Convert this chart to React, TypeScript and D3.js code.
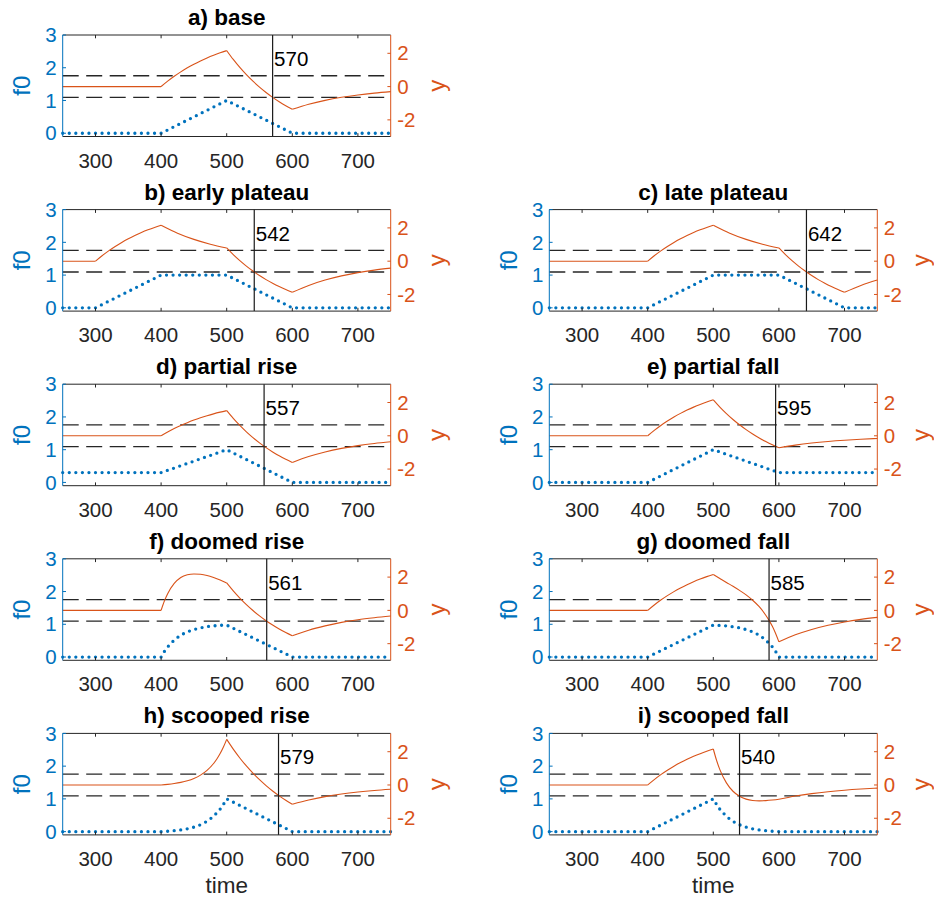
import React from "react";
import * as d3 from "d3";

// ---------- data ----------
const timeTicks = [300, 400, 500, 600, 700];
const f0Ticks = [0, 1, 2, 3];
const yTicks = [-2, 0, 2];
const thresholds = [0.65, -0.65];

const titles = [
  "a) base",
  "b) early plateau",
  "c) late plateau",
  "d) partial rise",
  "e) partial fall",
  "f) doomed rise",
  "g) doomed fall",
  "h) scooped rise",
  "i) scooped fall",
];
const crossTimes = [570, 542, 642, 557, 595, 561, 585, 579, 540];

// f0 (left axis) [time, value]
const f0A = [[250, 0], [400, 0], [500, 1], [600, 0], [750, 0]];
const f0B = [[250, 0], [300, 0], [400, 1], [500, 1], [600, 0], [750, 0]];
const f0C = [[250, 0], [400, 0], [500, 1], [600, 1], [700, 0], [750, 0]];
const f0D = [[250, 0.3], [400, 0.3], [500, 1], [600, 0], [750, 0]];
const f0E = [[250, 0], [400, 0], [500, 1], [600, 0.3], [750, 0.3]];
const f0F = [[250, 0], [400, 0], [405, 0.17], [410, 0.31], [420, 0.52], [430, 0.67], [440, 0.77], [450, 0.84], [460, 0.89], [470, 0.93], [480, 0.95], [490, 0.97], [500, 0.975], [600, 0], [750, 0]];
const f0G = [[250, 0], [400, 0], [500, 0.975], [510, 0.964], [520, 0.95], [530, 0.925], [540, 0.89], [550, 0.84], [560, 0.77], [570, 0.67], [580, 0.52], [590, 0.31], [595, 0.17], [600, 0], [750, 0]];
const f0H = [[250, 0], [400, 0], [410, 0.011], [420, 0.028], [430, 0.052], [440, 0.086], [450, 0.136], [460, 0.209], [470, 0.314], [480, 0.466], [490, 0.686], [495, 0.83], [500, 1], [600, 0], [750, 0]];
const f0I = [[250, 0], [400, 0], [500, 1], [505, 0.83], [510, 0.683], [520, 0.464], [530, 0.312], [540, 0.208], [550, 0.136], [560, 0.086], [570, 0.051], [580, 0.028], [590, 0.011], [600, 0], [750, 0]];

// y (right axis) [time, value]
const yA = [[250, 0], [400, 0], [410, 0.325], [420, 0.62], [430, 0.886], [440, 1.128], [450, 1.346], [460, 1.543], [470, 1.722], [480, 1.883], [490, 2.029], [500, 2.162], [510, 1.631], [520, 1.15], [530, 0.715], [540, 0.322], [550, -0.034], [560, -0.357], [570, -0.648], [580, -0.912], [590, -1.15], [600, -1.367], [625, -1.065], [650, -0.829], [675, -0.646], [700, -0.503], [725, -0.392], [750, -0.305]];
const yB = [[250, 0], [300, 0], [310, 0.325], [320, 0.62], [330, 0.886], [340, 1.128], [350, 1.346], [360, 1.543], [370, 1.722], [380, 1.883], [390, 2.029], [400, 2.162], [425, 1.684], [450, 1.311], [475, 1.021], [500, 0.795], [510, 0.394], [520, 0.031], [530, -0.297], [540, -0.594], [550, -0.863], [560, -1.107], [570, -1.327], [580, -1.526], [590, -1.706], [600, -1.869], [625, -1.456], [650, -1.134], [675, -0.883], [700, -0.688], [725, -0.535], [750, -0.417]];
const yC = [[250, 0], [400, 0], [410, 0.325], [420, 0.62], [430, 0.886], [440, 1.128], [450, 1.346], [460, 1.543], [470, 1.722], [480, 1.883], [490, 2.029], [500, 2.162], [525, 1.684], [550, 1.311], [575, 1.021], [600, 0.795], [610, 0.394], [620, 0.031], [630, -0.297], [640, -0.594], [650, -0.863], [660, -1.107], [670, -1.327], [680, -1.526], [690, -1.706], [700, -1.869], [725, -1.456], [750, -1.134]];
const yD = [[250, 0], [400, 0], [410, 0.228], [420, 0.434], [430, 0.62], [440, 0.79], [450, 0.942], [460, 1.08], [470, 1.205], [480, 1.318], [490, 1.42], [500, 1.513], [510, 1.043], [520, 0.619], [530, 0.234], [540, -0.113], [550, -0.428], [560, -0.713], [570, -0.97], [580, -1.204], [590, -1.414], [600, -1.605], [625, -1.25], [650, -0.973], [675, -0.758], [700, -0.59], [725, -0.46], [750, -0.358]];
const yE = [[250, 0], [400, 0], [410, 0.325], [420, 0.62], [430, 0.886], [440, 1.128], [450, 1.346], [460, 1.543], [470, 1.722], [480, 1.883], [490, 2.029], [500, 2.162], [510, 1.728], [520, 1.336], [530, 0.981], [540, 0.66], [550, 0.369], [560, 0.106], [570, -0.132], [580, -0.347], [590, -0.542], [600, -0.718], [625, -0.559], [650, -0.435], [675, -0.339], [700, -0.264], [725, -0.206], [750, -0.16]];
const yF = [[250, 0], [400, 0], [405, 0.56], [410, 1.0], [420, 1.62], [430, 1.98], [440, 2.14], [450, 2.19], [460, 2.17], [470, 2.1], [480, 1.98], [490, 1.83], [500, 1.65], [510, 1.171], [520, 0.738], [530, 0.346], [540, -0.008], [550, -0.329], [560, -0.619], [570, -0.882], [580, -1.12], [590, -1.335], [600, -1.53], [625, -1.19], [650, -0.93], [675, -0.72], [700, -0.56], [725, -0.44], [750, -0.34]];
const yG = [[250, 0], [400, 0], [410, 0.325], [420, 0.62], [430, 0.886], [440, 1.128], [450, 1.346], [460, 1.543], [470, 1.722], [480, 1.883], [490, 2.029], [500, 2.162], [510, 1.92], [520, 1.68], [530, 1.45], [540, 1.2], [550, 0.93], [560, 0.61], [570, 0.22], [580, -0.29], [585, -0.6], [590, -0.96], [595, -1.39], [600, -1.89], [625, -1.47], [650, -1.146], [675, -0.893], [700, -0.695], [725, -0.541], [750, -0.422]];
const yH = [[250, 0], [400, 0], [410, 0.037], [420, 0.087], [430, 0.157], [440, 0.255], [450, 0.394], [460, 0.593], [470, 0.879], [480, 1.292], [485, 1.563], [490, 1.887], [495, 2.278], [500, 2.74], [510, 2.154], [520, 1.623], [530, 1.143], [540, 0.709], [550, 0.316], [560, -0.039], [570, -0.361], [580, -0.652], [590, -0.916], [600, -1.154], [625, -0.899], [650, -0.7], [675, -0.545], [700, -0.425], [725, -0.331], [750, -0.258]];
const yI = [[250, 0], [400, 0], [410, 0.325], [420, 0.62], [430, 0.886], [440, 1.128], [450, 1.346], [460, 1.543], [470, 1.722], [480, 1.883], [490, 2.029], [500, 2.162], [505, 1.477], [510, 0.924], [520, 0.126], [530, -0.377], [540, -0.68], [550, -0.85], [560, -0.931], [570, -0.953], [580, -0.94], [590, -0.904], [600, -0.854], [625, -0.665], [650, -0.518], [675, -0.403], [700, -0.314], [725, -0.245], [750, -0.19]];

// times where the y curve has a kink
const yCorners = [
  [400, 500, 600],
  [300, 400, 500, 600],
  [400, 500, 600, 700],
  [400, 500, 600],
  [400, 500, 600],
  [400, 500, 600],
  [400, 500, 600],
  [400, 500, 600],
  [400, 500],
];

const f0Series = [f0A, f0B, f0C, f0D, f0E, f0F, f0G, f0H, f0I];
const ySeries = [yA, yB, yC, yD, yE, yF, yG, yH, yI];

// ---------- style ----------
const BLUE = "#0072BD";
const ORANGE = "#D95319";
const AXIS = "#262626";
const FONT = "'Liberation Sans', Arial, Helvetica, sans-serif";

const W = 328;
const H = 101.5;
const COL_X = [62.7, 549.3];
const ROW_TOP0 = 35;
const ROW_STEP = 174.6;
const TICK = 3.3;

function splitAt(points: number[][], corners: number[]) {
  const segs: number[][][] = [];
  let cur: number[][] = [];
  points.forEach((p) => {
    cur.push(p);
    if (corners.includes(p[0])) {
      segs.push(cur);
      cur = [p];
    }
  });
  if (cur.length > 1) segs.push(cur);
  return segs.filter((s) => s.length > 1);
}

function Panel({ i, x0, top, showTime }: { i: number; x0: number; top: number; showTime: boolean }) {
  const bottom = top + H;
  const xs = d3.scaleLinear().domain([250, 750]).range([x0, x0 + W]);
  const yl = d3.scaleLinear().domain([-0.1, 3]).range([bottom, top]);
  const yr = d3.scaleLinear().domain([-3, 3.1]).range([bottom, top]);

  const f0Line = d3
    .line<number[]>()
    .x((d) => xs(d[0]))
    .y((d) => yl(d[1]))
    .curve(d3.curveLinear);
  const yLine = d3
    .line<number[]>()
    .x((d) => xs(d[0]))
    .y((d) => yr(d[1]))
    .curve(d3.curveMonotoneX);

  const segs = splitAt(ySeries[i], yCorners[i]);
  const xc = xs(crossTimes[i]);
  const midY = (top + bottom) / 2;
  const yLabelX = Math.min(x0 + W + 54.3, 928.5);

  return (
    <g>
      <text x={x0 + W / 2} y={top - 10} textAnchor="middle" fontWeight="bold" fontSize={22.5} fill="#000">
        {titles[i]}
      </text>

      {thresholds.map((t) => (
        <line key={t} x1={x0} x2={x0 + W} y1={yr(t)} y2={yr(t)} stroke={AXIS} strokeWidth={1.3} strokeDasharray="16 7.5" />
      ))}

      {segs.map((s, k) => (
        <path key={k} d={yLine(s) || ""} fill="none" stroke={ORANGE} strokeWidth={1.1} />
      ))}

      <path d={f0Line(f0Series[i]) || ""} fill="none" stroke={BLUE} strokeWidth={3.3} strokeLinecap="round" strokeDasharray="0 6.56" />

      <line x1={xc} x2={xc} y1={top} y2={bottom} stroke="#1a1a1a" strokeWidth={1.2} />
      <text x={xc + 1.5} y={top + 31} fontSize={20.5} fill="#000">
        {crossTimes[i]}
      </text>

      <line x1={x0} x2={x0 + W} y1={top} y2={top} stroke={AXIS} strokeWidth={1} />
      <line x1={x0} x2={x0 + W} y1={bottom} y2={bottom} stroke={AXIS} strokeWidth={1} />
      <line x1={x0} x2={x0} y1={top} y2={bottom} stroke={BLUE} strokeWidth={1} />
      <line x1={x0 + W} x2={x0 + W} y1={top} y2={bottom} stroke={ORANGE} strokeWidth={1} />

      {timeTicks.map((t) => (
        <g key={t}>
          <line x1={xs(t)} x2={xs(t)} y1={bottom} y2={bottom - TICK} stroke={AXIS} strokeWidth={1} />
          <line x1={xs(t)} x2={xs(t)} y1={top} y2={top + TICK} stroke={AXIS} strokeWidth={1} />
          <text x={xs(t)} y={bottom + 31} textAnchor="middle" fontSize={20.5} fill={AXIS}>
            {t}
          </text>
        </g>
      ))}

      {f0Ticks.map((v) => (
        <g key={v}>
          <line x1={x0} x2={x0 + TICK} y1={yl(v)} y2={yl(v)} stroke={BLUE} strokeWidth={1} />
          <text x={x0 - 6} y={yl(v)} dy="0.35em" textAnchor="end" fontSize={20.5} fill={BLUE}>
            {v}
          </text>
        </g>
      ))}

      {yTicks.map((v) => (
        <g key={v}>
          <line x1={x0 + W} x2={x0 + W - TICK} y1={yr(v)} y2={yr(v)} stroke={ORANGE} strokeWidth={1} />
          <text x={x0 + W + 6.5} y={yr(v)} dy="0.35em" textAnchor="start" fontSize={20.5} fill={ORANGE}>
            {v}
          </text>
        </g>
      ))}

      <text transform={`translate(${x0 - 32.7},${midY}) rotate(-90)`} textAnchor="middle" fontSize={24} fill={BLUE}>
        f0
      </text>
      <text transform={`translate(${yLabelX},${midY}) rotate(-90)`} textAnchor="middle" fontSize={24} fill={ORANGE}>
        y
      </text>
      {showTime && (
        <text x={x0 + W / 2} y={bottom + 58.5} textAnchor="middle" fontSize={22.5} fill={AXIS}>
          time
        </text>
      )}
    </g>
  );
}

export default function App() {
  const layout = [
    [0, 0],
    [1, 0],
    [1, 1],
    [2, 0],
    [2, 1],
    [3, 0],
    [3, 1],
    [4, 0],
    [4, 1],
  ];
  return (
    <div style={{ position: "absolute", left: 0, top: 0 }}>
      <svg width={934} height={899} style={{ display: "block", background: "#fff" }} fontFamily={FONT}>
        <rect x={0} y={0} width={934} height={899} fill="#fff" />
        {layout.map(([r, c], i) => (
          <Panel key={i} i={i} x0={COL_X[c]} top={ROW_TOP0 + ROW_STEP * r} showTime={r === 4} />
        ))}
      </svg>
    </div>
  );
}
